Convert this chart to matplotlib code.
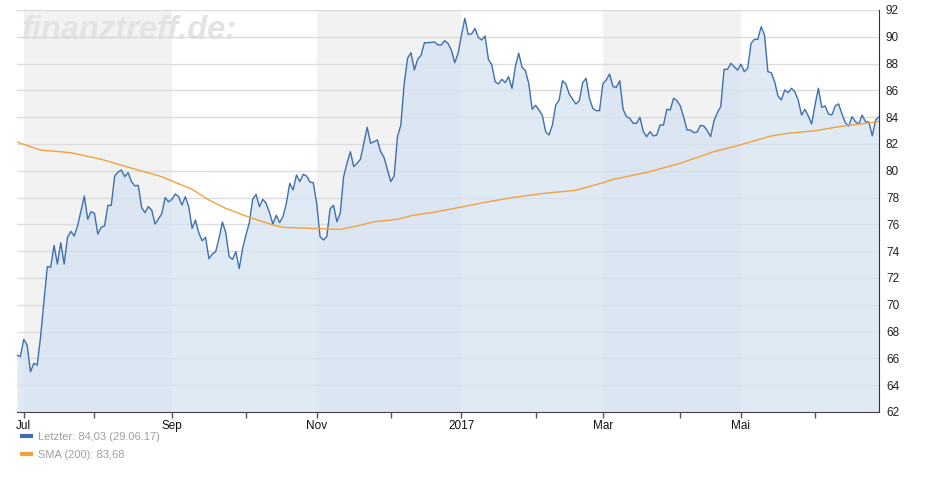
import numpy as np
import pandas as pd
import matplotlib.pyplot as plt
from matplotlib.lines import Line2D

plt.rcParams['font.family'] = ['Liberation Sans', 'DejaVu Sans']

# closing prices per trading day, 29.06.2016 .. 29.06.2017
price = [
    66.25, 66.13, 67.42, 67.0, 65.0, 65.63, 65.5, 67.6, 70.2, 72.85,
    72.8, 74.44, 73.04, 74.63, 73.04, 75.04, 75.48, 75.13, 75.9, 77.0,
    78.12, 76.38, 76.95, 76.83, 75.28, 75.78, 75.88, 77.42, 77.42, 79.61,
    79.9, 80.06, 79.56, 79.86, 79.19, 78.87, 78.92, 77.28, 76.87, 77.32,
    77.07, 76.03, 76.4, 76.8, 78.0, 77.69, 77.87, 78.27, 78.07, 77.45,
    78.07, 77.32, 75.71, 76.33, 75.34, 74.78, 75.04, 73.44, 73.79, 73.96,
    74.96, 76.18, 75.38, 73.59, 73.39, 73.96, 72.7, 74.19, 75.21, 76.13,
    77.87, 78.24, 77.32, 77.87, 77.57, 76.87, 76.03, 76.68, 76.13, 76.58,
    77.57, 79.07, 78.57, 79.69, 79.19, 79.74, 79.61, 79.16, 79.11, 77.57,
    75.08, 74.84, 75.08, 77.17, 77.42, 76.2, 76.83, 79.56, 80.56, 81.43,
    80.31, 80.56, 80.86, 82.05, 83.25, 82.05, 82.17, 82.3, 81.43, 81.0,
    80.11, 79.19, 79.61, 82.55, 83.42, 86.53, 88.4, 88.81, 87.52, 88.32,
    88.62, 89.56, 89.56, 89.58, 89.61, 89.39, 89.39, 89.71, 89.51, 89.0,
    88.07, 88.77, 90.13, 91.38, 90.18, 90.21, 90.63, 89.96, 89.76, 90.06,
    88.32, 87.9, 86.65, 86.48, 86.83, 86.58, 87.02, 86.15, 87.77, 88.77,
    87.72, 87.47, 86.48, 84.59, 84.89, 84.54, 84.16, 82.92, 82.67, 83.42,
    84.91, 85.28, 86.72, 86.48, 85.73, 85.34, 84.99, 85.23, 86.58, 86.9,
    85.41, 84.66, 84.49, 84.49, 86.48, 86.78, 87.22, 86.28, 86.23, 86.72,
    84.59, 84.04, 83.92, 83.54, 83.54, 83.99, 82.92, 82.55, 82.92, 82.6,
    82.67, 83.42, 83.42, 84.59, 84.54, 85.41, 85.23, 84.84, 83.99, 83.04,
    83.04, 82.84, 82.9, 83.39, 83.34, 82.99, 82.55, 83.74, 84.34, 84.79,
    87.57, 87.57, 88.02, 87.77, 87.52, 87.95, 87.4, 87.65, 89.51, 89.81,
    89.81, 90.75, 90.13, 87.4, 87.32, 86.65, 85.58, 85.28, 86.03, 85.83,
    86.16, 85.9, 85.28, 84.16, 84.59, 84.09, 83.49, 84.91, 86.16, 84.74,
    84.84, 84.24, 84.16, 84.84, 84.99, 84.24, 83.59, 83.34, 84.04, 83.66,
    83.49, 84.16, 83.66, 83.64, 82.6, 83.79, 84.03,
]

# SMA(200) read at some trading days (day number from series start)
sma_day = [0, 4, 7, 16, 25, 34, 43, 52, 57, 62, 69, 76, 79, 87, 96, 101,
           106, 113, 118, 123, 131, 138, 147, 156, 166, 174, 177, 187, 197,
           207, 214, 224, 229, 237, 244, 252, 256]
sma = [82.15, 81.8, 81.55, 81.35, 80.86, 80.2, 79.56, 78.62, 77.82, 77.2,
       76.53, 75.96, 75.78, 75.71, 75.63, 75.88, 76.2, 76.38, 76.7, 76.87,
       77.25, 77.6, 78.0, 78.3, 78.55, 79.11, 79.36, 79.88, 80.56, 81.43,
       81.88, 82.6, 82.8, 82.99, 83.29, 83.54, 83.68]

holidays = ['2016-12-26', '2017-04-14', '2017-04-17', '2017-05-01', '2017-06-05']
month_names = {1: '2017', 3: 'Mar', 5: 'Mai', 7: 'Jul', 9: 'Sep', 11: 'Nov'}

days = pd.bdate_range('2016-06-01', '2017-06-29')
days = days[~days.isin(pd.to_datetime(holidays))][-len(price):]
x = np.arange(len(price))

# first trading day of each month
starts = [i for i in range(1, len(days)) if days[i].month != days[i - 1].month]
labels = [month_names.get(days[i].month, '') for i in starts]

fig = plt.figure(figsize=(9.4, 5), dpi=100)
ax = fig.add_axes([17 / 940, 88 / 500, 862 / 940, 402 / 500])

# grey bands on every second two-month block
for k, s in enumerate(starts):
    if days[s].month in (7, 11, 3):
        e = starts[k + 2] if k + 2 < len(starts) else x[-1]
        ax.axvspan(s, e, color='#f2f2f2', lw=0, zorder=0)

ax.text(1.5, 90.45, 'finanztreff.de:', fontsize=23.5, fontweight='bold',
        fontstyle='italic', color='#e3e3e3', va='center', ha='left', zorder=0.3)

ax.fill_between(x, price, 62, color='#d4e2f2', alpha=0.7, lw=0, zorder=2)
ax.plot(x, price, color='#3d6fb0', lw=1, zorder=3)
ax.plot(sma_day, sma, color='#f0a23c', lw=1, zorder=4)

ax.set_xlim(0, x[-1])
ax.set_ylim(62, 92)
ax.set_yticks(range(62, 93, 2))
ax.yaxis.tick_right()
ax.set_axisbelow(True)
ax.grid(axis='y', color='#dcdcdc', lw=1)
ax.tick_params(axis='y', length=0, labelsize=8.5, labelcolor='#222', pad=5)

ax.set_xticks(starts)
ax.set_xticklabels(labels)
ax.tick_params(axis='x', length=4, width=1, color='#555', labelsize=8.5,
               labelcolor='#111', pad=2)

for side in ['top', 'left']:
    ax.spines[side].set_visible(False)
ax.spines['right'].set_color('#333')
ax.spines['bottom'].set_color('#444')

handles = [Line2D([], [], color='#3d6fb0', lw=3, solid_capstyle='butt'),
           Line2D([], [], color='#f0a23c', lw=3, solid_capstyle='butt')]
names = ['Letzter: 84,03 (29.06.17)', 'SMA (200): 83,68']
fig.legend(handles, names, loc='upper left', bbox_to_anchor=(20 / 940, 1 - 432 / 500),
           frameon=False, fontsize=8, labelcolor='#a0a0a0', handlelength=1.2,
           handletextpad=0.45, labelspacing=0.75, borderpad=0, borderaxespad=0)

fig.savefig('out.png', dpi=100)
